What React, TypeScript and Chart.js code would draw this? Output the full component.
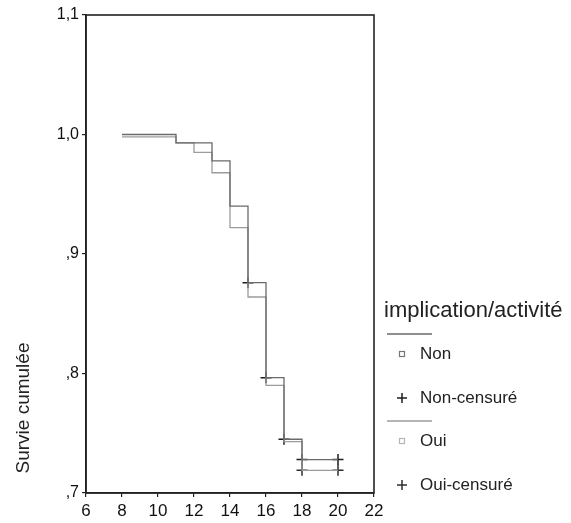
import React, { useEffect, useRef } from 'react';
import { Chart, registerables } from 'chart.js';

Chart.register(...registerables);

const FONT = '"Liberation Sans", Arial, Helvetica, sans-serif';

// Kaplan-Meier steps (time, cumulative survival)
const nonTimes = [8, 11, 13, 14, 15, 16, 17, 18, 20];
const nonSurvival = [1.0, 0.993, 0.978, 0.94, 0.876, 0.7965, 0.745, 0.728, 0.728];
const ouiTimes = [8, 11, 12, 13, 14, 15, 16, 17, 18, 20];
const ouiSurvival = [0.998, 0.993, 0.985, 0.968, 0.922, 0.864, 0.79, 0.743, 0.719, 0.719];

// Censored observations
const nonCensoredTimes = [15, 16, 17, 18, 20];
const nonCensoredSurvival = [0.876, 0.7965, 0.745, 0.728, 0.728];
const ouiCensoredTimes = [18, 20];
const ouiCensoredSurvival = [0.719, 0.719];

const xTickValues = [6, 8, 10, 12, 14, 16, 18, 20, 22];
const yTickValues = [0.7, 0.8, 0.9, 1.0, 1.1];

const groupNames = ['Non', 'Oui'];
const legendTitle = 'implication/activité';
const yAxisTitle = 'Survie cumulée';

const lineColors = ['#6a6a6a', '#9c9c9c'];
const squareColors = ['#777777', '#b5b5b5'];
const crossColors = ['#1e1e1e', '#2e2e2e'];

const toPoints = (xs: number[], ys: number[]) => xs.map((x, i) => ({ x, y: ys[i] }));

const fmtY = (v: number) => {
  const s = v.toFixed(1).replace('.', ',');
  return s.startsWith('0') ? s.slice(1) : s;
};

const framePlugin = {
  id: 'frame',
  afterDraw(chart: any) {
    const { ctx, chartArea } = chart;
    ctx.save();
    ctx.strokeStyle = '#222';
    ctx.lineWidth = 1.6;
    ctx.strokeRect(chartArea.left, chartArea.top, chartArea.right - chartArea.left, chartArea.bottom - chartArea.top);
    ctx.restore();
  },
};

const yTitlePlugin = {
  id: 'yTitle',
  afterDraw(chart: any) {
    const ctx = chart.ctx;
    ctx.save();
    ctx.translate(24, 408);
    ctx.rotate(-Math.PI / 2);
    ctx.font = `19px ${FONT}`;
    ctx.fillStyle = '#222';
    ctx.textAlign = 'center';
    ctx.textBaseline = 'middle';
    ctx.fillText(yAxisTitle, 0, 0);
    ctx.restore();
  },
};

const legendPlugin = {
  id: 'kmLegend',
  afterDraw(chart: any) {
    const ctx = chart.ctx;
    ctx.save();
    ctx.textAlign = 'left';
    ctx.textBaseline = 'middle';
    ctx.fillStyle = '#222';
    ctx.font = `22px ${FONT}`;
    ctx.fillText(legendTitle, 384, 311);
    const bases = [334, 421];
    groupNames.forEach((name, g) => {
      const b = bases[g];
      // line sample
      ctx.strokeStyle = lineColors[g];
      ctx.lineWidth = 1.5;
      ctx.beginPath();
      ctx.moveTo(387, b);
      ctx.lineTo(432, b);
      ctx.stroke();
      // square
      ctx.strokeStyle = squareColors[g];
      ctx.lineWidth = 1.2;
      ctx.strokeRect(399.5, b + 17.5, 5, 5);
      ctx.fillStyle = '#222';
      ctx.font = `17px ${FONT}`;
      ctx.fillText(name, 420, b + 20);
      // cross
      ctx.strokeStyle = crossColors[g];
      ctx.lineWidth = 1.5;
      ctx.beginPath();
      ctx.moveTo(397, b + 64);
      ctx.lineTo(407, b + 64);
      ctx.moveTo(402, b + 59);
      ctx.lineTo(402, b + 69);
      ctx.stroke();
      ctx.fillText(`${name}-censuré`, 420, b + 64);
    });
    ctx.restore();
  },
};

export default function App() {
  const ref = useRef<HTMLCanvasElement>(null);

  useEffect(() => {
    if (!ref.current) return;
    const chart = new Chart(ref.current, {
      type: 'line',
      data: {
        datasets: [
          {
            label: groupNames[0],
            data: toPoints(nonTimes, nonSurvival),
            borderColor: lineColors[0],
            borderWidth: 1.3,
            stepped: 'before',
            pointRadius: 0,
            fill: false,
          },
          {
            label: groupNames[1],
            data: toPoints(ouiTimes, ouiSurvival),
            borderColor: lineColors[1],
            borderWidth: 1.3,
            stepped: 'before',
            pointRadius: 0,
            fill: false,
          },
          {
            label: `${groupNames[0]}-censuré`,
            data: toPoints(nonCensoredTimes, nonCensoredSurvival),
            showLine: false,
            pointStyle: 'cross',
            pointRadius: 5.5,
            pointBorderWidth: 1.5,
            pointBorderColor: crossColors[0],
            borderColor: crossColors[0],
          },
          {
            label: `${groupNames[1]}-censuré`,
            data: toPoints(ouiCensoredTimes, ouiCensoredSurvival),
            showLine: false,
            pointStyle: 'cross',
            pointRadius: 5.5,
            pointBorderWidth: 1.5,
            pointBorderColor: crossColors[1],
            borderColor: crossColors[1],
          },
        ],
      },
      options: {
        animation: false,
        responsive: false,
        maintainAspectRatio: false,
        layout: { padding: { top: 15, right: 197, left: 0, bottom: 0 } },
        plugins: { legend: { display: false }, tooltip: { enabled: false }, title: { display: false } },
        scales: {
          x: {
            type: 'linear',
            min: 6,
            max: 22,
            afterBuildTicks: (scale: any) => {
              scale.ticks = xTickValues.map((v) => ({ value: v }));
            },
            afterFit: (scale: any) => {
              scale.height = 30;
            },
            grid: { display: true, drawOnChartArea: false, drawTicks: true, tickLength: 4, color: '#222', lineWidth: 1.2 },
            border: { display: true, color: '#222', width: 1.6 },
            ticks: {
              autoSkip: false,
              maxRotation: 0,
              padding: 4,
              color: '#111',
              font: { family: FONT, size: 17 },
              callback: (v: any) => String(v),
            },
          },
          y: {
            type: 'linear',
            min: 0.7,
            max: 1.1,
            afterBuildTicks: (scale: any) => {
              scale.ticks = yTickValues.map((v) => ({ value: v }));
            },
            afterFit: (scale: any) => {
              scale.width = 86;
            },
            grid: { display: true, drawOnChartArea: false, drawTicks: true, tickLength: 4, color: '#222', lineWidth: 1.2 },
            border: { display: true, color: '#222', width: 1.6 },
            ticks: {
              autoSkip: false,
              padding: 3,
              color: '#111',
              font: { family: FONT, size: 16 },
              callback: (v: any) => fmtY(Number(v)),
            },
          },
        },
      },
      plugins: [framePlugin, yTitlePlugin, legendPlugin],
    });
    return () => chart.destroy();
  }, []);

  return (
    <div style={{ position: 'fixed', left: 0, top: 0, width: 571, height: 523, background: '#fff' }}>
      <canvas ref={ref} width={571} height={523} style={{ display: 'block', width: 571, height: 523 }} />
    </div>
  );
}
